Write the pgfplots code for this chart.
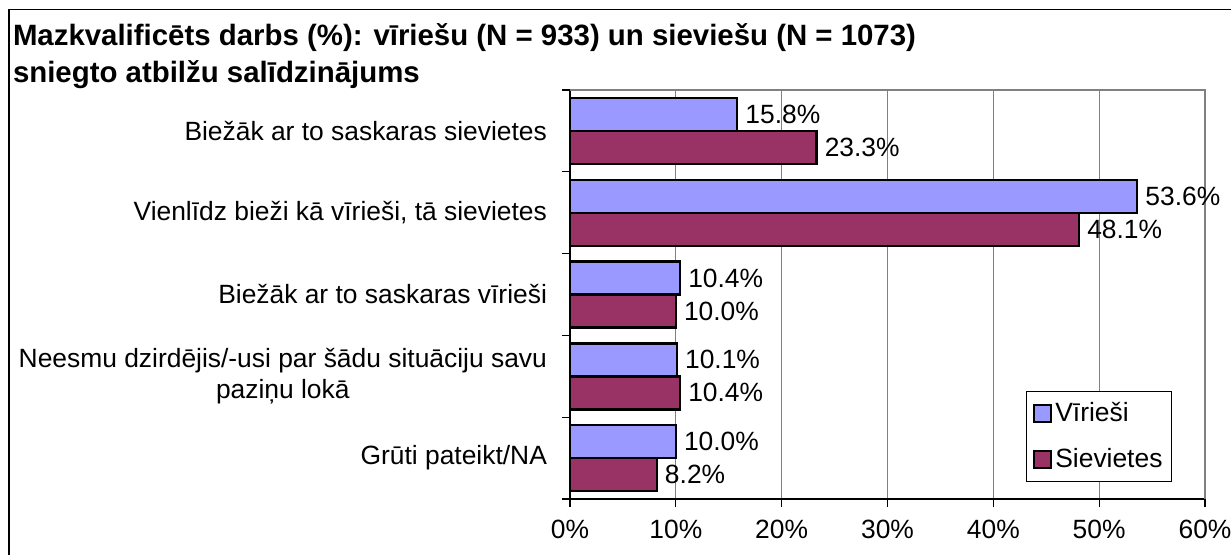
\documentclass[border=0pt]{standalone}
\usepackage{fontspec}
\setmainfont{Liberation Sans}
\usepackage{pgfplots}
\usepackage{pgfplotstable}
\pgfplotsset{compat=1.18}

\definecolor{viri}{HTML}{9999FF}
\definecolor{siev}{HTML}{993366}
\definecolor{gridg}{HTML}{808080}

% y: 4 = top category, 0 = bottom
\pgfplotstableread{
y viri siev
4 15.8 23.3
3 53.6 48.1
2 10.4 10.0
1 10.1 10.4
0 10.0 8.2
}\datatab

\newcommand{\lbl}{\fontsize{13.2}{15.5}\selectfont}

\begin{document}
\begin{tikzpicture}[x=1pt,y=1pt]
\useasboundingbox (0,0) rectangle (615.5,277);
\draw[line width=0.8pt] (4.4,-10) rectangle (630,272.2);
\node[anchor=base west, inner sep=0, font=\fontsize{14.7}{17}\selectfont\bfseries] at (6.3,254.5)
  {Mazkvalificēts darbs (\%): vīriešu (N = 933) un sieviešu (N = 1073)};
\node[anchor=base west, inner sep=0, font=\fontsize{14.7}{17}\selectfont\bfseries] at (6.3,236)
  {sniegto atbilžu salīdzinājums};

\begin{axis}[
  at={(285pt,27.5pt)}, anchor=south west,
  scale only axis, width=317.5pt, height=204.5pt,
  xbar, bar width=16.5pt,
  xmin=0, xmax=60, ymin=-0.5, ymax=4.5,
  axis x line*=bottom, axis y line*=left,
  axis line style={black, line width=0.6pt},
  tick align=outside,
  xtick={0,10,...,60},
  xticklabel={\pgfmathprintnumber{\tick}\%},
  xmajorgrids, major grid style={gridg, line width=0.6pt},
  major x tick style={black, line width=0.6pt},
  major tick length=4pt,
  ytick={0,...,4},
  yticklabels={Grūti pateikt/NA,{Neesmu dzirdējis/-usi par šādu situāciju savu\\paziņu lokā},Biežāk ar to saskaras vīrieši,{Vienlīdz bieži kā vīrieši, tā sievietes},Biežāk ar to saskaras sievietes},
  major y tick style={draw=none},
  minor ytick={-0.5,0.5,...,4.5},
  minor y tick style={black, line width=0.6pt},
  minor tick length=4pt,
  /pgf/number format/assume math mode=true,
  tick label style={font=\lbl},
  yticklabel style={align=center, xshift=-4pt},
  xticklabel style={yshift=-3pt},
  clip=false,
  point meta=explicit,
  nodes near coords={\pgfmathprintnumber[fixed,fixed zerofill,precision=1]{\pgfplotspointmeta}\%},
  nodes near coords align=horizontal,
  every node near coord/.append style={font=\lbl, black, anchor=west, inner xsep=3.5pt},
  legend cell align=left,
  legend image code/.code={\draw[#1, line width=1.2pt] (0pt,-4.25pt) rectangle (8.5pt,4.25pt);},
  legend style={at={(0.948,0.0416)}, anchor=south east, draw=black, line width=0.5pt,
    font=\lbl, row sep=8pt, inner xsep=3pt, inner ysep=3.5pt,
    nodes={inner xsep=1.5pt}},
]
\addplot[fill=viri, draw=black, line width=1.2pt, bar shift=8.25pt]
  table[x=viri, y=y, meta=viri] {\datatab};
\addplot[fill=siev, draw=black, line width=1.2pt, bar shift=-8.25pt]
  table[x=siev, y=y, meta=siev] {\datatab};
\legend{Vīrieši, Sievietes}
\draw[gridg, line width=1pt] (rel axis cs:0,1) -- (rel axis cs:1,1) -- (rel axis cs:1,0);
\end{axis}
\end{tikzpicture}
\end{document}
